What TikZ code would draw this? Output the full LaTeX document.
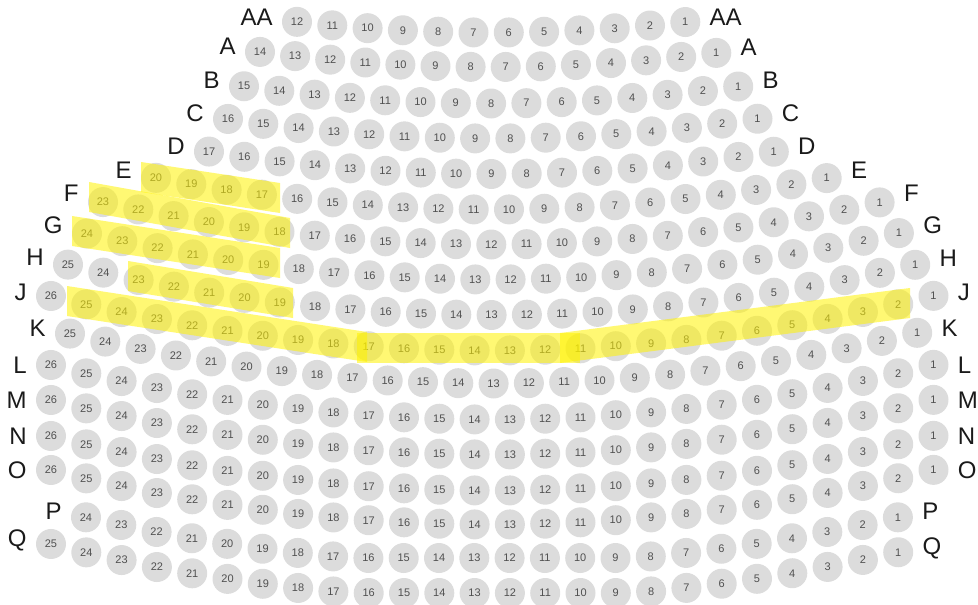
\documentclass[tikz,border=0pt]{standalone}
\usepackage{fontspec}
\setmainfont{Liberation Sans}
\usetikzlibrary{positioning}
\definecolor{seatgray}{HTML}{DCDCDC}
\definecolor{numgray}{HTML}{505050}
\definecolor{labelblack}{HTML}{1A1A1A}
\tikzset{
  seat/.style={circle, fill=seatgray, minimum size=30pt, inner sep=0pt, text=numgray, font=\fontsize{11}{13}\selectfont},
  rowname/.style={inner sep=0pt, text=labelblack, font=\fontsize{24}{28}\selectfont},
  marked/.style={fill=yellow, fill opacity=0.55}
}
\begin{document}
\begin{tikzpicture}[x=1pt, y=-1pt]
\useasboundingbox (0,0) rectangle (978,605);
% seats: row / seats / x of highest number / gap / y of middle / lowest y / label lift
\foreach \row/\n/\xl/\gap/\yc/\ymax/\lift in {
  AA/12/297/35.3/32.5/999/5, A/14/260/35.1/67/999/6, B/15/244/35.3/103.5/999/6,
  C/16/228/35.3/138.5/999/6, D/17/209/35.3/174/999/5, E/20/156/35.3/209.5/999/8,
  F/23/103/35.3/244.5/999/9, G/24/87/35.3/279.5/999/8, H/25/68/35.3/315/999/7,
  J/26/51/35.3/350.5/999/4, K/25/70/35.3/383.5/999/5, L/26/51/35.3/419.5/999/0,
  M/26/51/35.3/454.5/999/0, N/26/51/35.3/490.5/999/0, O/26/51/35.3/524.5/999/0,
  P/24/86/35.3/563.5/558/6, Q/25/51/35.3/598.5/593/4}{
  \foreach \m in {1,...,\n}{
    \pgfmathsetmacro\sx{\xl+(\n-\m)*\gap}
    \pgfmathsetmacro\sy{min(\yc-((\sx-492)/59.73)^2,\ymax)}
    \node[seat] (\row\m) at (\sx,\sy) {\m};
  }
  % row names
  \node[rowname, left=9pt of \row\n, yshift=\lift pt] (\row-left) {\row};
  \node[rowname, right=9pt of \row1, yshift=\lift pt] (\row-right) {\row};
}
% highlighted seats
\fill[marked] (141,162) -- (280,183) -- (280,213) -- (141,192) -- cycle;
\fill[marked] (89,182) -- (290,218) -- (290,248) -- (89,212) -- cycle;
\fill[marked] (72,216) -- (280,248) -- (280,278) -- (72,246) -- cycle;
\fill[marked] (128,261) -- (293,288) -- (293,318) -- (128,291) -- cycle;
% row J, three pieces
\fill[marked] (67,286) -- (367,332) -- (367,362) -- (67,316) -- cycle;
\fill[marked] (357,333) -- (580,333) -- (580,363) -- (357,363) -- cycle;
\fill[marked] (560,333) -- (910,288) -- (910,318) -- (560,363) -- cycle;
\end{tikzpicture}
\end{document}
